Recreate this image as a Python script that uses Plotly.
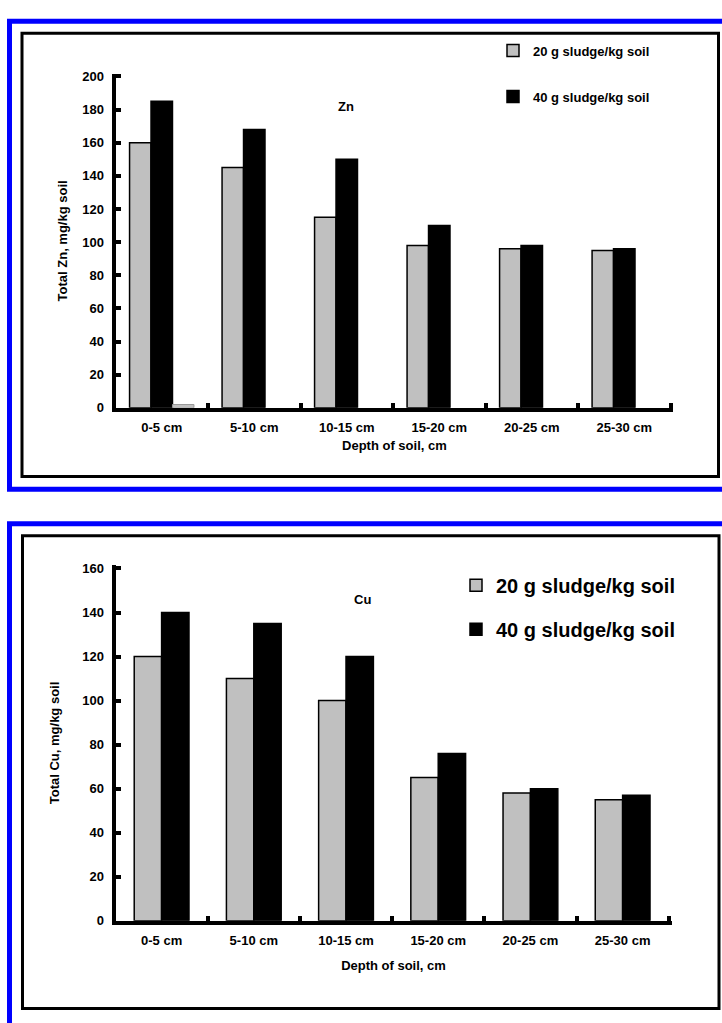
import plotly.graph_objects as go

# ---- data -------------------------------------------------------------
depths = ["0-5 cm", "5-10 cm", "10-15 cm", "15-20 cm", "20-25 cm", "25-30 cm"]
series_names = ["20 g sludge/kg soil", "40 g sludge/kg soil"]

zn_20 = [160, 145, 115, 98, 96, 95]
zn_40 = [185, 168, 150, 110, 98, 96]
zn_third = [2, None, None, None, None, None]   # nearly empty third column

cu_20 = [120, 110, 100, 65, 58, 55]
cu_40 = [140, 135, 120, 76, 60, 57]

zn_ticks = list(range(0, 201, 20))
cu_ticks = list(range(0, 161, 20))

# ---- styling ----------------------------------------------------------
W, H = 722, 1023
FONT = "Liberation Sans, Arial, sans-serif"
GRAY = "#c0c0c0"


def px(x):
    return x / W


def py(y):
    return 1 - y / H


fig = go.Figure()

# top panel: three columns per depth (third almost empty)
w_top = 0.232
fig.add_trace(go.Bar(
    x=depths, y=zn_20, name=series_names[0], legend="legend", legendgroup="a",
    width=w_top, offset=-1.5 * w_top,
    marker=dict(color=GRAY, line=dict(color="black", width=1.5)),
    xaxis="x", yaxis="y"))
fig.add_trace(go.Bar(
    x=depths, y=zn_40, name=series_names[1], legend="legend", legendgroup="b",
    width=w_top, offset=-0.5 * w_top,
    marker=dict(color="black", line=dict(color="black", width=1.5)),
    xaxis="x", yaxis="y"))
fig.add_trace(go.Bar(
    x=depths, y=zn_third, name="third", showlegend=False,
    width=w_top, offset=0.5 * w_top,
    marker=dict(color=GRAY, line=dict(color="#9a9a9a", width=1)),
    xaxis="x", yaxis="y"))

# bottom panel: two columns per depth
w_bot = 0.297
fig.add_trace(go.Bar(
    x=depths, y=cu_20, name=series_names[0], legend="legend2", legendgroup="c",
    width=w_bot, offset=-w_bot,
    marker=dict(color=GRAY, line=dict(color="black", width=1.5)),
    xaxis="x2", yaxis="y2"))
fig.add_trace(go.Bar(
    x=depths, y=cu_40, name=series_names[1], legend="legend2", legendgroup="d",
    width=w_bot, offset=0,
    marker=dict(color="black", line=dict(color="black", width=1.5)),
    xaxis="x2", yaxis="y2"))

axis_font = dict(family=FONT, size=13, color="black", weight="bold")

# ranges run a hair past the last tick so the end tick marks are kept
xcommon = dict(
    type="category", showline=True, linecolor="black", linewidth=4,
    ticks="inside", tickson="boundaries", ticklen=5, tickwidth=4,
    tickcolor="black", showgrid=False, zeroline=False, tickfont=axis_font,
    ticklabelstandoff=5, range=[-0.5, 5.53], fixedrange=True,
)
ycommon = dict(
    showline=True, linecolor="black", linewidth=4,
    ticks="inside", ticklen=5, tickwidth=4, tickcolor="black",
    showgrid=False, zeroline=False, tickfont=axis_font,
    ticklabelstandoff=5, fixedrange=True,
)

fig.update_layout(
    width=W, height=H,
    margin=dict(l=0, r=0, t=0, b=0),
    paper_bgcolor="white", plot_bgcolor="white",
    barmode="overlay",
    font=dict(family=FONT, color="black"),
    xaxis=dict(**xcommon, domain=[px(115.5), px(673.3)], anchor="y",
               title=dict(text="Depth of soil, cm", font=axis_font, standoff=7)),
    yaxis=dict(**ycommon, domain=[py(408), py(69.8)], anchor="x",
               range=[0, 201.5], tickvals=zn_ticks,
               title=dict(text="Total Zn, mg/kg soil", font=axis_font, standoff=13)),
    xaxis2=dict(**xcommon, domain=[px(115.5), px(671.5)], anchor="y2",
                title=dict(text="Depth of soil, cm", font=axis_font, standoff=15)),
    yaxis2=dict(**ycommon, domain=[py(927.5), py(567.4)], anchor="x2",
                range=[0, 161.5], tickvals=cu_ticks,
                title=dict(text="Total Cu, mg/kg soil", font=axis_font, standoff=21)),
    legend=dict(
        x=px(493), y=py(31), xanchor="left", yanchor="top",
        traceorder="grouped", tracegroupgap=26,
        font=dict(family=FONT, size=13, color="black", weight="bold"),
        bgcolor="rgba(0,0,0,0)", itemclick=False, itemdoubleclick=False,
    ),
    legend2=dict(
        x=px(456), y=py(568), xanchor="left", yanchor="top",
        traceorder="grouped", tracegroupgap=15,
        font=dict(family=FONT, size=20, color="black", weight="bold"),
        bgcolor="rgba(0,0,0,0)", itemclick=False, itemdoubleclick=False,
    ),
    annotations=[
        dict(text="Zn", x=px(346), y=py(103), xref="paper", yref="paper",
             xanchor="center", yanchor="middle", showarrow=False,
             font=dict(family=FONT, size=13, color="black", weight="bold")),
        dict(text="Cu", x=px(362.5), y=py(601.7), xref="paper", yref="paper",
             xanchor="center", yanchor="middle", showarrow=False,
             font=dict(family=FONT, size=13, color="black", weight="bold")),
    ],
)

# frames around each panel: blue outer border (open on the right / bottom), black inner box
shapes = [
    dict(type="rect", xref="paper", yref="paper",
         x0=px(9.5), x1=px(740), y0=py(16.5), y1=py(490.5),
         line=dict(color="#0000ff", width=5), fillcolor="rgba(0,0,0,0)", layer="below"),
    dict(type="rect", xref="paper", yref="paper",
         x0=px(22), x1=px(718.5), y0=py(28.7), y1=py(477.5),
         line=dict(color="black", width=3), fillcolor="rgba(0,0,0,0)", layer="below"),
    dict(type="rect", xref="paper", yref="paper",
         x0=px(9.5), x1=px(740), y0=py(525.5), y1=py(1040),
         line=dict(color="#0000ff", width=5), fillcolor="rgba(0,0,0,0)", layer="below"),
    dict(type="rect", xref="paper", yref="paper",
         x0=px(22.5), x1=px(719), y0=py(537.5), y1=py(1016.5),
         line=dict(color="black", width=3), fillcolor="rgba(0,0,0,0)", layer="below"),
]
fig.update_layout(shapes=shapes)

fig.write_html("out.html")
